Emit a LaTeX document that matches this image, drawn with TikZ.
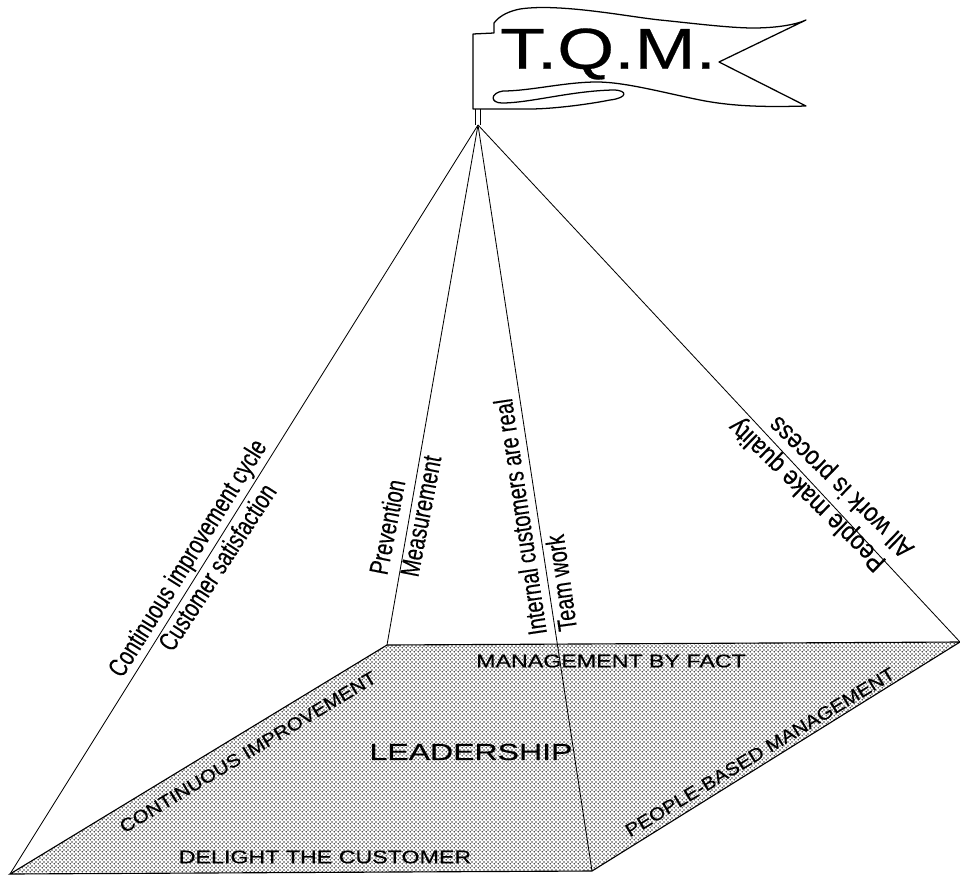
\documentclass[tikz,border=0pt]{standalone}
\usepackage{fontspec}
\usepackage{tikz}
\usetikzlibrary{patterns}
\setmainfont{Liberation Sans}
\newfontfamily\narrowfont[FakeStretch=0.75, FakeBold=0.3]{Liberation Sans}
\newfontfamily\flippedfont[FakeStretch=0.86, FakeBold=0.3]{Liberation Sans}
\newfontfamily\slantfont[FakeStretch=1.12, FakeBold=0.4]{Liberation Sans}
\newfontfamily\widefont[FakeStretch=1.27, FakeBold=0.4]{Liberation Sans}
\newfontfamily\leadfont[FakeStretch=1.38, FakeBold=0.4]{Liberation Sans}
\newfontfamily\titlefont[FakeStretch=1.27, FakeBold=0.5]{Liberation Sans}

\pgfdeclarepatternformonly{halftone}{\pgfqpoint{-1pt}{-1pt}}{\pgfqpoint{1.6pt}{1.6pt}}{\pgfqpoint{2.6pt}{2.6pt}}
{
	\pgfpathcircle{\pgfqpoint{0pt}{0pt}}{0.68pt}
	\pgfpathcircle{\pgfqpoint{1.3pt}{1.3pt}}{0.68pt}
	\pgfusepath{fill}
}

\tikzset{
	pillar/.style={draw, line width=0.6pt},
	pillarlabel/.style={inner sep=0pt, font=\narrowfont\fontsize{19}{19}\selectfont},
	flippedlabel/.style={inner sep=0pt, font=\flippedfont\fontsize{19}{19}\selectfont, rotate=136},
	sidelabel/.style={inner sep=0pt, font=\slantfont\fontsize{13}{13}\selectfont, rotate=31},
	edgelabel/.style={inner sep=0pt, font=\widefont\fontsize{13}{13}\selectfont},
}

\begin{document}
\begin{tikzpicture}[x=0.025cm, y=-0.025cm]
		\useasboundingbox (0, 0) rectangle (960, 875);
		% base
		\coordinate (front) at (10, 874);
		\coordinate (back) at (387, 645);
		\coordinate (right) at (960, 642);
		\coordinate (near) at (592, 871);
		\coordinate (apex) at (478, 125);
		\fill[pattern=halftone, pattern color=black!75] (front) -- (back) -- (right) -- (near) -- cycle;
		\draw[line width=0.8pt] (front) -- (back) -- (right) -- (near) -- cycle;
		\draw[pillar] (apex) -- (front);
		\draw[pillar] (apex) -- (back);
		\draw[pillar] (apex) -- (near);
		\draw[pillar] (apex) -- (right);
		% flag
		\coordinate (poletop) at (478, 109);
		\draw[line width=0.6pt] ([xshift=-1.5]poletop) -- ([xshift=-1.5]apex);
		\draw[line width=0.6pt] ([xshift=1.5]poletop) -- ([xshift=1.5]apex);
		\draw[line width=0.9pt, line join=round] (473, 34) -- (494, 33) -- (494, 23)
			.. controls (500, 15) and (510, 11) .. (520, 9)
			.. controls (560, 3) and (630, 17) .. (660, 20)
			.. controls (690, 23) and (730, 28) .. (753, 28)
			.. controls (775, 28) and (795, 25) .. (806, 20)
			-- (719, 62) -- (806, 106)
			.. controls (770, 107) and (735, 107) .. (700, 100)
			.. controls (665, 93) and (625, 82) .. (597, 82)
			.. controls (565, 82) and (530, 91) .. (503, 91)
			.. controls (490, 93) and (490, 103) .. (502, 103)
			.. controls (530, 103) and (570, 91) .. (613, 90)
			.. controls (628, 90) and (628, 98) .. (610, 100)
			.. controls (585, 105) and (550, 109) .. (530, 109)
			-- (473, 109) -- cycle;
		\node[inner sep=0pt, font=\titlefont\fontsize{41}{41}\selectfont] (title) at (608, 54) {T.Q.M.};
		% labels
		\node[pillarlabel, rotate=58] (cycle) at (189, 559) {Continuous improvement cycle};
		\node[pillarlabel, rotate=57] (satisfaction) at (217, 567) {Customer satisfaction};
		\node[pillarlabel, rotate=79] (prevention) at (387, 527) {Prevention};
		\node[pillarlabel, rotate=79] (measurement) at (421, 516) {Measurement};
		\node[pillarlabel, rotate=98.5] (internal) at (520, 517) {Internal customers are real};
		\node[pillarlabel, rotate=98] (teamwork) at (561, 583) {Team work};
		\node[flippedlabel] (people) at (808, 494) {People make quality};
		\node[flippedlabel] (process) at (842, 486) {All work is process};
		\node[edgelabel] (fact) at (611, 661) {MANAGEMENT BY FACT};
		\node[sidelabel] (improvement) at (248, 752) {CONTINUOUS IMPROVEMENT};
		\node[sidelabel] (based) at (760, 752) {PEOPLE-BASED MANAGEMENT};
		\node[edgelabel] (delight) at (325, 857) {DELIGHT THE CUSTOMER};
		\node[inner sep=0pt, font=\leadfont\fontsize{16.5}{16.5}\selectfont] (leadership) at (471, 752) {LEADERSHIP};
	\end{tikzpicture}
\end{document}
